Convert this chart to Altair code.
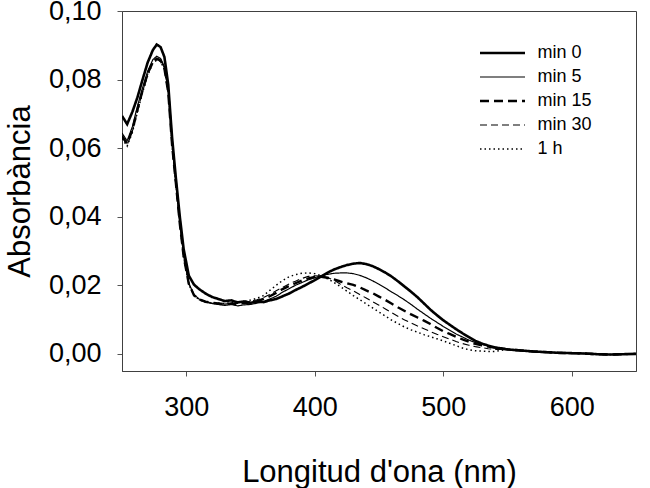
import altair as alt
import pandas as pd

FONT = "Liberation Sans, Arial, sans-serif"

# Wavelength grid (nm): 250-540 nm, then a common tail up to 650 nm
wavelength = [
    250, 254, 258, 262, 266, 270, 274, 277, 280, 283,
    286, 289, 292, 295, 298, 302, 306, 310, 315, 320,
    325, 330, 335, 340, 345, 350, 355, 360, 365, 370,
    375, 380, 385, 390, 395, 400, 405, 410, 415, 420,
    425, 430, 435, 440, 445, 450, 455, 460, 465, 470,
    475, 480, 485, 490, 495, 500, 505, 510, 515, 520,
    525, 530, 535, 540,
    550, 560, 570, 580, 590, 600, 610, 620, 630, 640, 650,
]

# Baseline shared by all spectra from 550 nm on
tail = [0.0013, 0.0010, 0.0007, 0.0005, 0.0003, 0.0002, 0.0001, -0.0001, -0.0002, -0.0001, 0.0000]

abs_min0 = [
    0.0694, 0.0670, 0.0705, 0.0748, 0.0800, 0.0850, 0.0886, 0.0902, 0.0895, 0.0866,
    0.0785, 0.0630, 0.0510, 0.0400, 0.0305, 0.0228, 0.0202, 0.0189, 0.0176, 0.0166,
    0.0160, 0.0154, 0.0156, 0.0150, 0.0153, 0.0149, 0.0152, 0.0151, 0.0156, 0.0160,
    0.0168, 0.0176, 0.0186, 0.0195, 0.0205, 0.0215, 0.0226, 0.0237, 0.0246, 0.0253,
    0.0259, 0.0263, 0.0265, 0.0262, 0.0256, 0.0247, 0.0237, 0.0225, 0.0211, 0.0196,
    0.0181, 0.0165, 0.0147, 0.0129, 0.0113, 0.0098, 0.0085, 0.0072, 0.0060, 0.0049,
    0.0038, 0.0030, 0.0024, 0.0019,
] + tail

abs_min5 = [
    0.0644, 0.0621, 0.0662, 0.0722, 0.0776, 0.0825, 0.0858, 0.0868, 0.0862, 0.0838,
    0.0765, 0.0612, 0.0498, 0.0382, 0.0286, 0.0206, 0.0173, 0.0160, 0.0152, 0.0147,
    0.0144, 0.0141, 0.0144, 0.0140, 0.0143, 0.0144, 0.0148, 0.0152, 0.0160, 0.0168,
    0.0180, 0.0190, 0.0200, 0.0208, 0.0216, 0.0222, 0.0228, 0.0232, 0.0235, 0.0236,
    0.0236, 0.0234, 0.0229, 0.0222, 0.0213, 0.0203, 0.0192, 0.0180, 0.0169, 0.0157,
    0.0144, 0.0130, 0.0117, 0.0104, 0.0092, 0.0080, 0.0069, 0.0058, 0.0049, 0.0040,
    0.0033, 0.0028, 0.0023, 0.0019,
] + tail

abs_min15 = [
    0.0636, 0.0613, 0.0652, 0.0712, 0.0768, 0.0818, 0.0850, 0.0860, 0.0856, 0.0832,
    0.0762, 0.0608, 0.0495, 0.0379, 0.0283, 0.0204, 0.0171, 0.0159, 0.0152, 0.0149,
    0.0147, 0.0145, 0.0147, 0.0146, 0.0148, 0.0150, 0.0154, 0.0160, 0.0168, 0.0178,
    0.0189, 0.0198, 0.0206, 0.0214, 0.0220, 0.0224, 0.0225, 0.0222, 0.0217, 0.0211,
    0.0206, 0.0201, 0.0194, 0.0185, 0.0177, 0.0167, 0.0157, 0.0146, 0.0135, 0.0125,
    0.0115, 0.0106, 0.0097, 0.0087, 0.0076, 0.0066, 0.0058, 0.0050, 0.0042, 0.0035,
    0.0029, 0.0025, 0.0021, 0.0018,
] + tail

abs_min30 = [
    0.0632, 0.0609, 0.0648, 0.0708, 0.0765, 0.0815, 0.0853, 0.0863, 0.0858, 0.0834,
    0.0764, 0.0609, 0.0496, 0.0380, 0.0284, 0.0204, 0.0171, 0.0158, 0.0151, 0.0148,
    0.0146, 0.0145, 0.0147, 0.0147, 0.0150, 0.0153, 0.0158, 0.0164, 0.0173, 0.0184,
    0.0194, 0.0204, 0.0212, 0.0220, 0.0226, 0.0228, 0.0227, 0.0222, 0.0215, 0.0203,
    0.0193, 0.0184, 0.0173, 0.0163, 0.0152, 0.0142, 0.0131, 0.0120, 0.0109, 0.0099,
    0.0090, 0.0081, 0.0073, 0.0065, 0.0057, 0.0050, 0.0043, 0.0036, 0.0030, 0.0025,
    0.0021, 0.0018, 0.0015, 0.0013,
] + tail

abs_1h = [
    0.0628, 0.0606, 0.0645, 0.0705, 0.0762, 0.0812, 0.0848, 0.0857, 0.0853, 0.0830,
    0.0760, 0.0606, 0.0494, 0.0378, 0.0282, 0.0203, 0.0170, 0.0158, 0.0151, 0.0149,
    0.0148, 0.0147, 0.0149, 0.0150, 0.0153, 0.0157, 0.0162, 0.0170, 0.0185, 0.0200,
    0.0214, 0.0225, 0.0231, 0.0235, 0.0236, 0.0234, 0.0228, 0.0219, 0.0208, 0.0196,
    0.0183, 0.0170, 0.0158, 0.0146, 0.0134, 0.0122, 0.0110, 0.0098, 0.0088, 0.0078,
    0.0070, 0.0063, 0.0056, 0.0050, 0.0044, 0.0038, 0.0031, 0.0024, 0.0017, 0.0012,
    0.0009, 0.0008, 0.0007, 0.0007,
] + tail

series_names = ["min 0", "min 5", "min 15", "min 30", "1 h"]
series_values = [abs_min0, abs_min5, abs_min15, abs_min30, abs_1h]
line_dash = [[1, 0], [1, 0], [9, 5], [7, 4], [1.5, 3]]
line_width = [2.6, 1.2, 2.4, 1.1, 1.5]

x_ticks = [300, 400, 500, 600]
y_ticks = [0.0, 0.02, 0.04, 0.06, 0.08, 0.10]

rows = []
for name, vals in zip(series_names, series_values):
    for w, a in zip(wavelength, vals):
        rows.append({"wl": w, "absorbance": a, "serie": name})
df = pd.DataFrame(rows)

legend = alt.Legend(
    title=None,
    orient="none",
    legendX=371.5,
    legendY=33,
    symbolType="M-4.5,0L4.5,0",
    symbolSize=100,
    symbolStrokeColor="black",
    labelFont=FONT,
    labelFontSize=18,
    labelColor="black",
    labelOffset=26,
    rowPadding=6,
    padding=0,
)

chart = (
    alt.Chart(df)
    .mark_line(clip=True, strokeCap="butt")
    .encode(
        x=alt.X(
            "wl:Q",
            scale=alt.Scale(domain=[250, 650], nice=False, zero=False),
            axis=alt.Axis(
                values=x_ticks,
                title="Longitud d'ona (nm)",
                labelPadding=18,
                titlePadding=37,
            ),
        ),
        y=alt.Y(
            "absorbance:Q",
            scale=alt.Scale(domain=[-0.005, 0.10], nice=False, zero=False),
            axis=alt.Axis(
                values=y_ticks,
                labelExpr="replace(format(datum.value, '.2f'), '.', ',')",
                title="Absorbància",
                labelPadding=16,
                titlePadding=12,
            ),
        ),
        stroke=alt.Stroke(
            "serie:N",
            scale=alt.Scale(domain=series_names, range=["black"] * 5),
            legend=legend,
        ),
        strokeDash=alt.StrokeDash(
            "serie:N",
            scale=alt.Scale(domain=series_names, range=line_dash),
            legend=legend,
        ),
        strokeWidth=alt.StrokeWidth(
            "serie:N",
            scale=alt.Scale(type="ordinal", domain=series_names, range=line_width),
            legend=legend,
        ),
    )
    .properties(
        width=514,
        height=360,
        autosize="none",
        padding={"left": 122, "top": 11, "right": 14, "bottom": 117},
        background="white",
    )
    .configure_view(stroke="#404040", strokeWidth=1)
    .configure_axis(
        grid=False,
        domainColor="#404040",
        tickColor="#555555",
        tickSize=5,
        labelFont=FONT,
        labelFontSize=27,
        labelColor="black",
        titleFont=FONT,
        titleFontSize=31,
        titleFontWeight="normal",
        titleColor="black",
    )
)

chart.save("out.html", embed_options={"renderer": "svg", "actions": False})
